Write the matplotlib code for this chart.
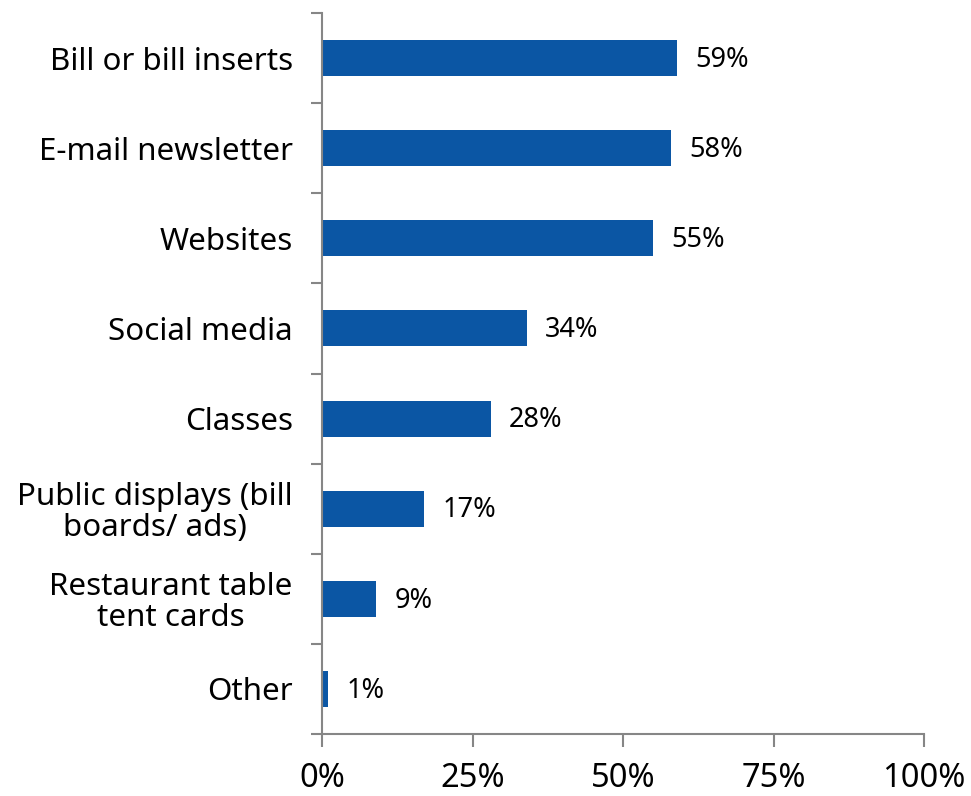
import matplotlib
matplotlib.use("Agg")
import matplotlib.pyplot as plt
from matplotlib.ticker import FuncFormatter

categories = [
    "Bill or bill inserts",
    "E-mail newsletter",
    "Websites",
    "Social media",
    "Classes",
    "Public displays (bill\nboards/ ads)",
    "Restaurant table\ntent cards",
    "Other",
]
values = [59, 58, 55, 34, 28, 17, 9, 1]
x_ticks = [0, 25, 50, 75, 100]

plt.rcParams["font.family"] = ["Noto Sans", "DejaVu Sans"]

bar_color = "#0B56A4"
axis_color = "#868686"

fig = plt.figure(figsize=(9.71, 7.96), dpi=100)
ax = fig.add_axes([322 / 971, 1 - 734 / 796, (924 - 322) / 971, (734 - 13) / 796])

n = len(categories)
ypos = list(range(n))
ax.barh(ypos, values, height=0.4, color=bar_color)
ax.set_ylim(n - 0.5, -0.5)
ax.set_xlim(0, 100)

# category boundaries carry the tick marks; names sit at bar centres
ax.set_yticks([i - 0.5 for i in range(n + 1)])
ax.set_yticklabels([])
ax.set_yticks(ypos, minor=True)
ax.set_yticklabels(categories, minor=True, fontsize=22.5, ha="right",
                   multialignment="center", linespacing=1.05)
ax.tick_params(axis="y", which="major", length=8, width=1.5, color=axis_color, direction="out")
ax.tick_params(axis="y", which="minor", length=0, pad=21)

ax.set_xticks(x_ticks)
ax.xaxis.set_major_formatter(FuncFormatter(lambda v, p: f"{v:.0f}%"))
ax.tick_params(axis="x", length=9, width=1.5, color=axis_color, direction="out",
               labelsize=23.5, pad=11)

for side in ("top", "right"):
    ax.spines[side].set_visible(False)
for side in ("left", "bottom"):
    ax.spines[side].set_color(axis_color)
    ax.spines[side].set_linewidth(1.5)

for y, v in zip(ypos, values):
    ax.text(v + 3, y + 0.02, f"{v}%", va="center", ha="left", fontsize=19.5)

fig.savefig("out.png", dpi=100)
